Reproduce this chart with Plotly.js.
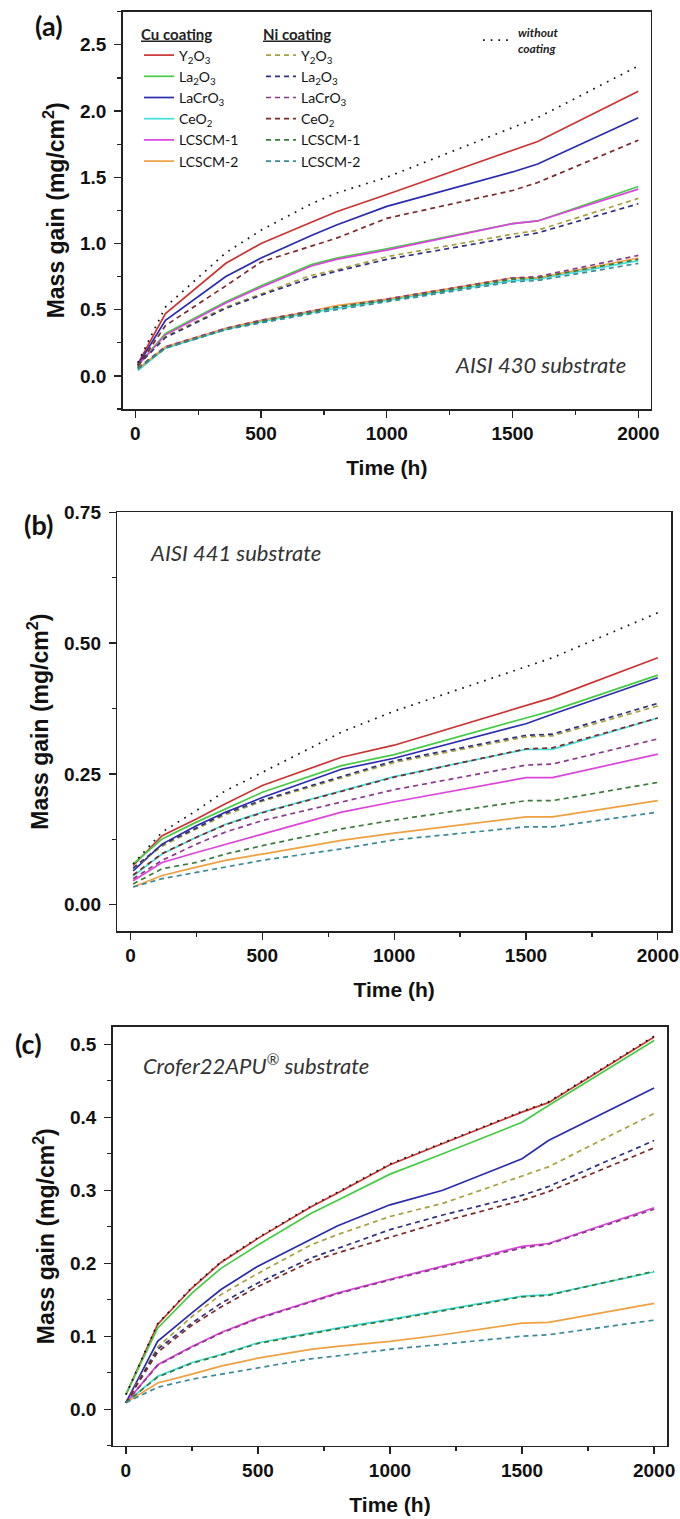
<!DOCTYPE html>
<html><head><meta charset="utf-8">
<script src="https://cdn.plot.ly/plotly-3.0.1.min.js"></script>
<style>html,body{margin:0;padding:0;background:#fff}#chart{width:680px;height:1519px}</style>
</head><body><div id="chart"></div>
<script>
// ---------- DATA ----------
const coatingNames = ['Y<sub>2</sub>O<sub>3</sub>', 'La<sub>2</sub>O<sub>3</sub>', 'LaCrO<sub>3</sub>', 'CeO<sub>2</sub>', 'LCSCM-1', 'LCSCM-2'];
const noCoatName = '<b><i>without<br>coating</i></b>';

// Panel (a) AISI 430
const tA = [10, 120, 360, 500, 700, 800, 1000, 1500, 1600, 2000];
const a_noCoat     = [0.10, 0.52, 0.93, 1.10, 1.30, 1.38, 1.50, 1.88, 1.95, 2.34];
const a_Cu_Y2O3    = [0.09, 0.47, 0.85, 1.00, 1.16, 1.24, 1.37, 1.70, 1.77, 2.15];
const a_Cu_La2O3   = [0.08, 0.32, 0.56, 0.68, 0.84, 0.89, 0.96, 1.15, 1.17, 1.43];
const a_Cu_LaCrO3  = [0.08, 0.42, 0.75, 0.89, 1.06, 1.14, 1.28, 1.54, 1.60, 1.95];
const a_Cu_CeO2    = [0.04, 0.21, 0.35, 0.41, 0.48, 0.51, 0.57, 0.72, 0.73, 0.87];
const a_Cu_LCSCM1  = [0.08, 0.31, 0.55, 0.67, 0.83, 0.88, 0.95, 1.15, 1.17, 1.41];
const a_Cu_LCSCM2  = [0.05, 0.22, 0.36, 0.42, 0.49, 0.53, 0.58, 0.74, 0.74, 0.89];
const a_Ni_Y2O3    = [0.08, 0.30, 0.52, 0.62, 0.76, 0.80, 0.90, 1.07, 1.10, 1.34];
const a_Ni_La2O3   = [0.08, 0.29, 0.51, 0.61, 0.74, 0.79, 0.88, 1.05, 1.08, 1.30];
const a_Ni_LaCrO3  = [0.06, 0.22, 0.36, 0.42, 0.49, 0.52, 0.58, 0.74, 0.75, 0.91];
const a_Ni_CeO2    = [0.07, 0.38, 0.68, 0.86, 0.98, 1.04, 1.19, 1.40, 1.46, 1.78];
const a_Ni_LCSCM1  = [0.06, 0.21, 0.35, 0.41, 0.48, 0.52, 0.57, 0.73, 0.74, 0.88];
const a_Ni_LCSCM2  = [0.05, 0.21, 0.35, 0.40, 0.47, 0.50, 0.56, 0.71, 0.72, 0.85];

// Panel (b) AISI 441
const tB = [10, 120, 250, 360, 500, 800, 1000, 1500, 1600, 2000];
const b_noCoat     = [0.078, 0.139, 0.180, 0.218, 0.253, 0.330, 0.370, 0.456, 0.472, 0.558];
const b_Cu_Y2O3    = [0.075, 0.132, 0.164, 0.193, 0.228, 0.282, 0.305, 0.380, 0.396, 0.472];
const b_Cu_La2O3   = [0.078, 0.126, 0.158, 0.183, 0.215, 0.266, 0.287, 0.357, 0.371, 0.439];
const b_Cu_LaCrO3  = [0.065, 0.116, 0.151, 0.177, 0.205, 0.259, 0.280, 0.346, 0.364, 0.434];
const b_Cu_CeO2    = [0.055, 0.097, 0.129, 0.154, 0.177, 0.218, 0.245, 0.297, 0.297, 0.357];
const b_Cu_LCSCM1  = [0.046, 0.081, 0.100, 0.116, 0.135, 0.177, 0.197, 0.243, 0.243, 0.288];
const b_Cu_LCSCM2  = [0.034, 0.056, 0.072, 0.085, 0.097, 0.123, 0.137, 0.168, 0.168, 0.199];
const b_Ni_Y2O3    = [0.070, 0.112, 0.145, 0.172, 0.198, 0.243, 0.272, 0.321, 0.323, 0.380];
const b_Ni_La2O3   = [0.070, 0.115, 0.147, 0.175, 0.200, 0.245, 0.275, 0.324, 0.326, 0.385];
const b_Ni_LaCrO3  = [0.050, 0.085, 0.116, 0.139, 0.161, 0.196, 0.220, 0.267, 0.269, 0.317];
const b_Ni_CeO2    = [0.057, 0.098, 0.129, 0.153, 0.176, 0.217, 0.244, 0.298, 0.300, 0.357];
const b_Ni_LCSCM1  = [0.040, 0.069, 0.081, 0.097, 0.113, 0.145, 0.162, 0.199, 0.199, 0.234];
const b_Ni_LCSCM2  = [0.034, 0.050, 0.062, 0.072, 0.085, 0.107, 0.124, 0.149, 0.149, 0.177];

// Panel (c) Crofer22APU
const tC = [0, 120, 250, 360, 500, 700, 800, 1000, 1200, 1500, 1600, 2000];
const c_noCoat     = [0.020, 0.117, 0.167, 0.202, 0.235, 0.278, 0.297, 0.336, 0.365, 0.408, 0.421, 0.511];
const c_Cu_Y2O3    = [0.020, 0.116, 0.166, 0.201, 0.234, 0.277, 0.296, 0.335, 0.364, 0.407, 0.420, 0.510];
const c_Cu_La2O3   = [0.020, 0.111, 0.159, 0.193, 0.225, 0.268, 0.286, 0.322, 0.350, 0.393, 0.416, 0.505];
const c_Cu_LaCrO3  = [0.009, 0.093, 0.132, 0.164, 0.196, 0.232, 0.251, 0.280, 0.300, 0.343, 0.368, 0.440];
const c_Cu_CeO2    = [0.009, 0.045, 0.064, 0.075, 0.091, 0.105, 0.111, 0.123, 0.136, 0.155, 0.157, 0.188];
const c_Cu_LCSCM1  = [0.009, 0.061, 0.086, 0.105, 0.125, 0.148, 0.159, 0.178, 0.196, 0.223, 0.227, 0.276];
const c_Cu_LCSCM2  = [0.009, 0.036, 0.048, 0.059, 0.070, 0.082, 0.086, 0.093, 0.102, 0.118, 0.119, 0.145];
const c_Ni_Y2O3    = [0.009, 0.085, 0.127, 0.157, 0.186, 0.225, 0.239, 0.264, 0.282, 0.320, 0.332, 0.405];
const c_Ni_La2O3   = [0.009, 0.082, 0.118, 0.145, 0.173, 0.207, 0.220, 0.246, 0.266, 0.293, 0.305, 0.368];
const c_Ni_LaCrO3  = [0.009, 0.060, 0.085, 0.104, 0.124, 0.147, 0.158, 0.177, 0.195, 0.221, 0.226, 0.274];
const c_Ni_CeO2    = [0.009, 0.078, 0.115, 0.140, 0.168, 0.202, 0.214, 0.236, 0.257, 0.286, 0.298, 0.358];
const c_Ni_LCSCM1  = [0.009, 0.044, 0.063, 0.074, 0.090, 0.104, 0.110, 0.122, 0.135, 0.154, 0.156, 0.189];
const c_Ni_LCSCM2  = [0.009, 0.030, 0.041, 0.048, 0.057, 0.069, 0.073, 0.082, 0.089, 0.100, 0.102, 0.122];

const xTickVals = [0, 500, 1000, 1500, 2000];
const substrateLabels = ['AISI 430 substrate', 'AISI 441 substrate', 'Crofer22APU<sup>®</sup> substrate'];
const panelLabels = ['(a)', '(b)', '(c)'];

// ---------- STYLE ----------
const W = 680, H = 1519;
const fx = p => p / W;
const fy = p => 1 - p / H;
const cuColors = ['#cc3333', '#44cc44', '#2b2bb0', '#44dddd', '#dd44dd', '#f0a040'];
const niColors = ['#a8a040', '#303080', '#8a3a8a', '#7a2a2a', '#3a7a3a', '#3a8a9a'];
const numFont = {family: 'Liberation Sans, Arial, sans-serif', size: 19, color: '#111', weight: 'bold'};
const xTitleFont = {family: 'Liberation Sans, Arial, sans-serif', size: 21, color: '#111', weight: 'bold'};
const yTitleFont = {family: 'Liberation Sans, Arial, sans-serif', size: 23, color: '#111', weight: 'bold'};
const legFont = 'Lato, Open Sans, sans-serif';

function panelTraces(t, cu, ni, noCoat, xa, ya, legendOn) {
  const tr = [];
  cu.forEach((v, i) => tr.push({
    x: t, y: v, type: 'scatter', mode: 'lines', xaxis: xa, yaxis: ya,
    name: coatingNames[i], legend: 'legend', showlegend: legendOn,
    line: {color: cuColors[i], width: 1.7}
  }));
  ni.forEach((v, i) => tr.push({
    x: t, y: v, type: 'scatter', mode: 'lines', xaxis: xa, yaxis: ya,
    name: coatingNames[i], legend: 'legend2', showlegend: legendOn,
    line: {color: niColors[i], width: 1.7, dash: '5px,4px'}
  }));
  if (noCoat) tr.push({
    x: t, y: noCoat, type: 'scatter', mode: 'lines', xaxis: xa, yaxis: ya,
    name: noCoatName, legend: 'legend3', showlegend: legendOn,
    line: {color: '#111', width: 1.7, dash: '1.7px,6px'}
  });
  return tr;
}

const traces = [].concat(
  panelTraces(tA,
    [a_Cu_Y2O3, a_Cu_La2O3, a_Cu_LaCrO3, a_Cu_CeO2, a_Cu_LCSCM1, a_Cu_LCSCM2],
    [a_Ni_Y2O3, a_Ni_La2O3, a_Ni_LaCrO3, a_Ni_CeO2, a_Ni_LCSCM1, a_Ni_LCSCM2],
    a_noCoat, 'x', 'y', true),
  panelTraces(tB,
    [b_Cu_Y2O3, b_Cu_La2O3, b_Cu_LaCrO3, b_Cu_CeO2, b_Cu_LCSCM1, b_Cu_LCSCM2],
    [b_Ni_Y2O3, b_Ni_La2O3, b_Ni_LaCrO3, b_Ni_CeO2, b_Ni_LCSCM1, b_Ni_LCSCM2],
    b_noCoat, 'x2', 'y2', false),
  panelTraces(tC,
    [c_Cu_Y2O3, c_Cu_La2O3, c_Cu_LaCrO3, c_Cu_CeO2, c_Cu_LCSCM1, c_Cu_LCSCM2],
    [c_Ni_Y2O3, c_Ni_La2O3, c_Ni_LaCrO3, c_Ni_CeO2, c_Ni_LCSCM1, c_Ni_LCSCM2],
    c_noCoat, 'x3', 'y3', false)
);

function xAxis(dom, anchor) {
  return {
    domain: dom, anchor: anchor, range: [-50, 2050], tickvals: xTickVals,
    ticks: 'outside', ticklen: 7, tickwidth: 1.3, tickcolor: '#222',
    minor: {dtick: 250, tick0: 0, ticks: 'outside', ticklen: 4, tickwidth: 1.2, tickcolor: '#222'},
    showline: true, linecolor: '#222', linewidth: 1.5, mirror: true,
    showgrid: false, zeroline: false, tickfont: numFont, ticklabelstandoff: 0,
    title: {text: 'Time (h)', font: xTitleFont, standoff: 17}
  };
}
function yAxis(dom, anchor, range, dtick, minor, fmt) {
  return {
    domain: dom, anchor: anchor, range: range, dtick: dtick, tick0: 0, tickformat: fmt,
    ticks: 'outside', ticklen: 7, tickwidth: 1.3, tickcolor: '#222',
    minor: {dtick: minor, tick0: 0, ticks: 'outside', ticklen: 4, tickwidth: 1.2, tickcolor: '#222'},
    showline: true, linecolor: '#222', linewidth: 1.5, mirror: true,
    showgrid: false, zeroline: false, tickfont: numFont, ticklabelstandoff: 4,
    title: {text: 'Mass gain (mg/cm<sup>2</sup>)', font: yTitleFont, standoff: 9}
  };
}

const legendBase = {
  xanchor: 'left', yanchor: 'top', bgcolor: 'rgba(0,0,0,0)', borderwidth: 0,
  font: {family: legFont, size: 14, color: '#111'},
  tracegroupgap: 0, itemclick: false, itemdoubleclick: false
};

const annFontPanel = {family: legFont, size: 27, color: '#111'};
const annFontSub = {family: legFont, size: 22, color: '#333'};

const layout = {
  width: W, height: H, margin: {l: 0, r: 0, t: 0, b: 0},
  paper_bgcolor: '#fff', plot_bgcolor: '#fff', showlegend: true,
  xaxis: xAxis([fx(122.7), fx(650.9)], 'y'),
  yaxis: yAxis([fy(409), fy(11.7)], 'x', [-0.25, 2.75], 0.5, 0.25, '.1f'),
  xaxis2: xAxis([fx(117.3), fx(671)], 'y2'),
  yaxis2: yAxis([fy(931), fy(512.3)], 'x2', [-0.05, 0.75], 0.25, 0.125, '.2f'),
  xaxis3: xAxis([fx(112.7), fx(667.3)], 'y3'),
  yaxis3: yAxis([fy(1445.7), fy(1026.7)], 'x3', [-0.05, 0.524], 0.1, 0.05, '.1f'),
  legend: Object.assign({}, legendBase, {x: fx(139), y: fy(20),
    title: {text: '<u>Cu coating</u>', font: {family: legFont, size: 15, color: '#222', weight: 'bold'}}}),
  legend2: Object.assign({}, legendBase, {x: fx(261), y: fy(20),
    title: {text: '<u>Ni coating</u>', font: {family: legFont, size: 15, color: '#222', weight: 'bold'}}}),
  legend3: Object.assign({}, legendBase, {x: fx(478), y: fy(18),
    font: {family: legFont, size: 12, color: '#222'}}),
  annotations: [
    {xref: 'paper', yref: 'paper', x: fx(49), y: fy(25), text: '<b>' + panelLabels[0] + '</b>', showarrow: false,
     font: annFontPanel, xanchor: 'center', yanchor: 'middle'},
    {xref: 'paper', yref: 'paper', x: fx(38), y: fy(525), text: '<b>' + panelLabels[1] + '</b>', showarrow: false,
     font: annFontPanel, xanchor: 'center', yanchor: 'middle'},
    {xref: 'paper', yref: 'paper', x: fx(28), y: fy(1043), text: '<b>' + panelLabels[2] + '</b>', showarrow: false,
     font: annFontPanel, xanchor: 'center', yanchor: 'middle'},
    {xref: 'paper', yref: 'paper', x: fx(628), y: fy(365), text: '<i>' + substrateLabels[0] + '</i>', showarrow: false,
     font: annFontSub, xanchor: 'right', yanchor: 'middle'},
    {xref: 'paper', yref: 'paper', x: fx(148), y: fy(552), text: '<i>' + substrateLabels[1] + '</i>', showarrow: false,
     font: annFontSub, xanchor: 'left', yanchor: 'middle'},
    {xref: 'paper', yref: 'paper', x: fx(141), y: fy(1064), text: '<i>' + substrateLabels[2] + '</i>', showarrow: false,
     font: annFontSub, xanchor: 'left', yanchor: 'middle'}
  ]
};

Plotly.newPlot('chart', traces, layout, {displayModeBar: false, staticPlot: true});
</script>
</body></html>
